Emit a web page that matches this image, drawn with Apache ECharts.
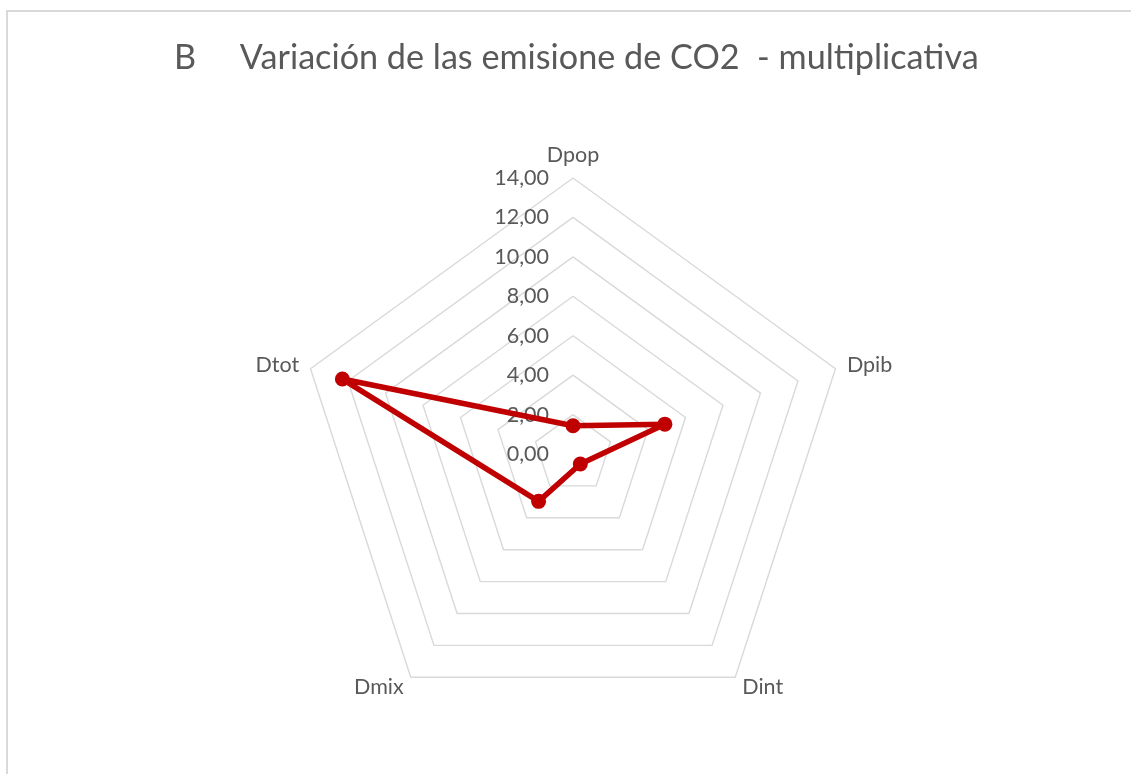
<!DOCTYPE html>
<html>
<head>
<meta charset="utf-8">
<script src="https://cdn.jsdelivr.net/npm/echarts@6/dist/echarts.min.js"></script>
<style>
  html, body { margin: 0; padding: 0; background: #fff; }
  #frame {
    position: absolute;
    left: 6px;
    top: 10px;
    width: 1140px;
    height: 780px;
    border-left: 2px solid #d9d9d9;
    border-top: 2px solid #d9d9d9;
    box-sizing: border-box;
  }
  #chart { position: absolute; left: 0; top: 0; width: 1131px; height: 774px; }
</style>
</head>
<body>
<div id="frame"></div>
<div id="chart"></div>
<script>
// categories in Excel order (clockwise from top)
const categories = ["Dpop", "Dpib", "Dint", "Dmix", "Dtot"];
const values = [1.43, 4.9, 0.63, 2.97, 12.3];
const axisMin = 0;
const axisMax = 14;
const axisStep = 2;

// echarts goes counter-clockwise, so keep the first one on top and flip the rest
const order = [0].concat(categories.slice(1).map((c, i) => categories.length - 1 - i));

const myChart = echarts.init(document.getElementById("chart"));

const option = {
  animation: false,
  title: {
    text: "B     Variación de las emisione de CO2  - multiplicativa",
    left: 169,
    top: 36,
    textStyle: {
      fontFamily: "Lato",
      fontSize: 34.2,
      fontWeight: "normal",
      color: "#595959",
    },
  },
  radar: {
    center: [573, 454],
    radius: 276,
    startAngle: 90,
    shape: "polygon",
    splitNumber: (axisMax - axisMin) / axisStep,
    axisName: {
      color: "#595959",
      fontFamily: "Lato",
      fontSize: 21.5,
    },
    nameGap: 12,
    axisLine: { show: false },
    axisTick: { show: false },
    axisLabel: {
      show: false,
      color: "#595959",
      fontFamily: "Lato",
      fontSize: 21.5,
      margin: 24,
      formatter: (v) => v.toFixed(2).replace(".", ","),
    },
    splitLine: {
      lineStyle: { color: "#d9d9d9", width: 1.4 },
    },
    splitArea: { show: false },
    indicator: order.map((k, i) => ({
      name: categories[k],
      min: axisMin,
      max: axisMax,
      axisLabel: { show: i === 0 },
    })),
  },
  series: [
    {
      type: "radar",
      symbol: "circle",
      symbolSize: 15,
      lineStyle: { color: "#c00000", width: 5.5 },
      itemStyle: { color: "#c00000" },
      data: [{ value: order.map((k) => values[k]) }],
    },
  ],
};

myChart.setOption(option);
</script>
</body>
</html>
